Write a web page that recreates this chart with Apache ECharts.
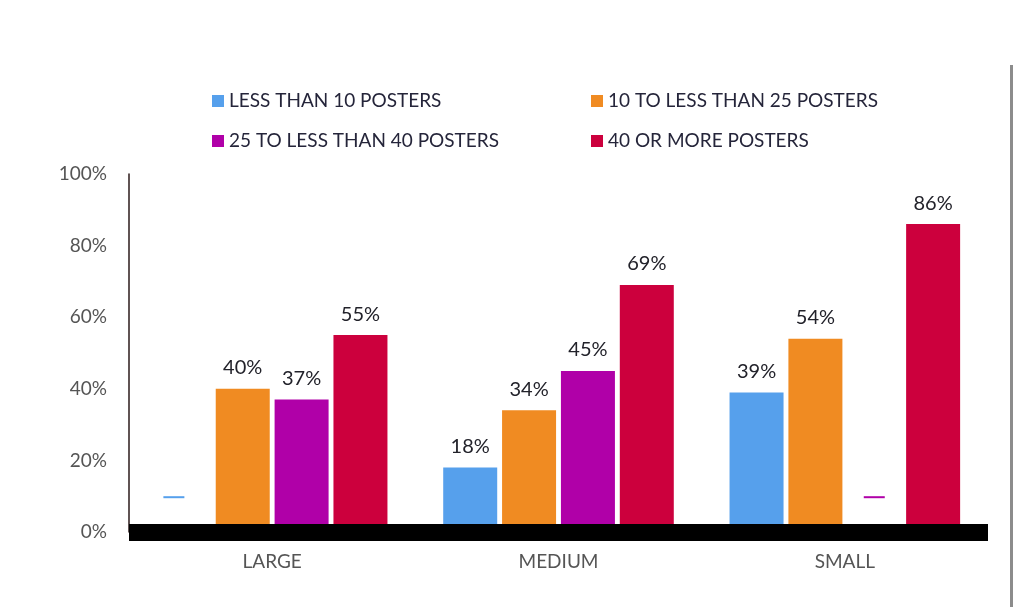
<!DOCTYPE html>
<html>
<head>
<meta charset="UTF-8">
<title>Posters by size</title>
<style>
  html, body { margin: 0; padding: 0; background: #fff; }
  #main { width: 1024px; height: 607px; }
  #rule { position: absolute; left: 1010px; top: 65px; width: 3px; height: 542px; background: #8c8c8c; }
</style>
</head>
<body>
<div id="main"></div>
<div id="rule"></div>
<script src="https://cdn.jsdelivr.net/npm/echarts@6/dist/echarts.min.js"></script>
<script>
  // categories and series
  var categories = ['LARGE', 'MEDIUM', 'SMALL'];
  var seriesNames = ['LESS THAN 10 POSTERS', '10 TO LESS THAN 25 POSTERS',
                     '25 TO LESS THAN 40 POSTERS', '40 OR MORE POSTERS'];
  var lessThan10 = [null, 18, 39];
  var from10To25 = [40, 34, 54];
  var from25To40 = [37, 45, null];
  var fortyOrMore = [55, 69, 86];
  // level where the "no data" dash is drawn
  var dashLevel = 10;
  var yTicks = [0, 20, 40, 60, 80, 100];

  var colors = ['#56a0ec', '#f08b22', '#b000a8', '#cc003d'];
  var dashShift = [-10, 0, 0, 0];
  var font = 'Lato, "Open Sans", sans-serif';

  function buildData(values, i) {
    return values.map(function (v) {
      if (v === null) {
        return {
          value: dashLevel,
          itemStyle: { color: 'rgba(0,0,0,0)' },
          label: {
            show: true,
            position: 'top',
            distance: -2,
            offset: [dashShift[i], 0],
            formatter: ' ',
            fontSize: 1,
            lineHeight: 2,
            width: 21,
            height: 2,
            padding: 0,
            backgroundColor: colors[i]
          }
        };
      }
      return v;
    });
  }

  var allValues = [lessThan10, from10To25, from25To40, fortyOrMore];

  var series = allValues.map(function (vals, i) {
    return {
      name: seriesNames[i],
      type: 'bar',
      barWidth: 54,
      barGap: '9%',
      itemStyle: { color: colors[i] },
      label: {
        show: true,
        position: 'top',
        distance: 11,
        formatter: '{c}%',
        color: '#22222a',
        fontFamily: font,
        fontSize: 20
      },
      data: buildData(vals, i)
    };
  });

  var chart = echarts.init(document.getElementById('main'));
  chart.setOption({
    animation: false,
    color: colors,
    legend: {
      left: 212,
      top: 81,
      width: 800,
      padding: 0,
      itemWidth: 12,
      itemHeight: 12,
      itemGap: 0,
      icon: 'rect',
      textStyle: {
        width: 362,
        lineHeight: 40,
        color: '#25253a',
        fontFamily: font,
        fontSize: 19
      },
      data: seriesNames
    },
    grid: { left: 129, right: 36, top: 174, bottom: 75 },
    xAxis: {
      type: 'category',
      data: categories,
      z: 10,
      axisLine: { lineStyle: { color: '#000', width: 17, cap: 'butt' } },
      axisTick: { show: false },
      axisLabel: { margin: 20, color: '#555555', fontFamily: font, fontSize: 19 }
    },
    yAxis: {
      type: 'value',
      min: yTicks[0],
      max: yTicks[yTicks.length - 1],
      interval: 20,
      splitLine: { show: false },
      axisTick: { show: false },
      axisLine: { show: true, lineStyle: { color: '#2b1a1a', width: 1.5 } },
      axisLabel: { margin: 22, color: '#555555', fontFamily: font, fontSize: 19, formatter: '{value}%' }
    },
    series: series
  });
</script>
</body>
</html>
